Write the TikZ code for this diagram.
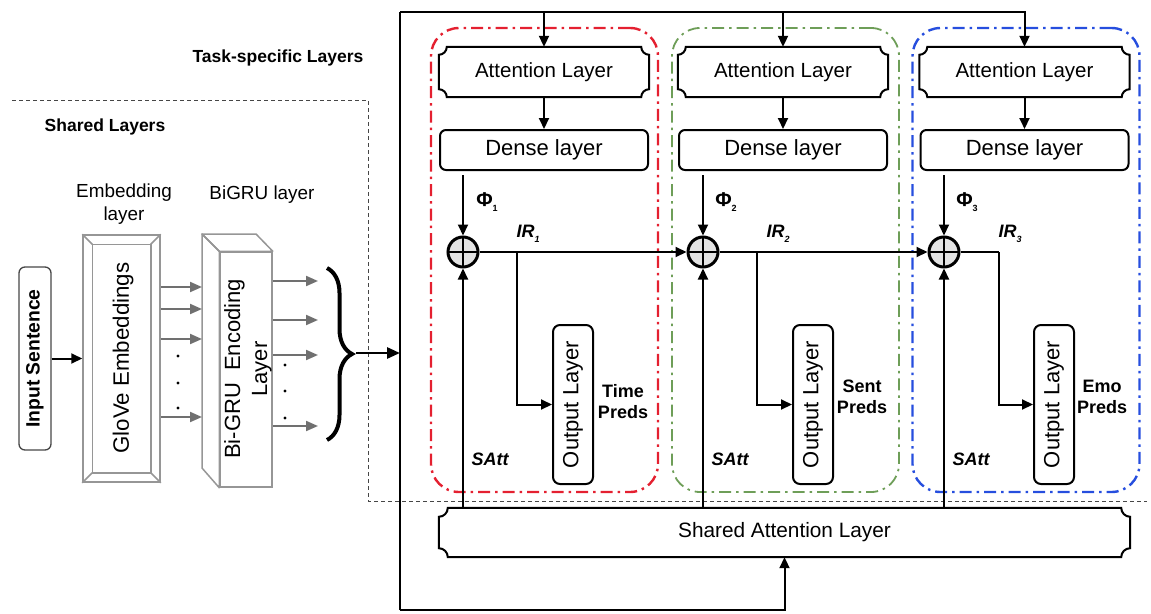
\documentclass[tikz,border=0pt]{standalone}
\usepackage{fontspec}
\setmainfont{Liberation Sans}
\usetikzlibrary{arrows.meta,decorations.pathreplacing,calc}
\definecolor{tred}{RGB}{228,32,48}
\definecolor{tgreen}{RGB}{110,158,88}
\definecolor{tblue}{RGB}{38,78,222}
\definecolor{embgray}{RGB}{150,150,150}
\definecolor{arrgray}{RGB}{112,112,112}
\definecolor{dashgray}{RGB}{70,70,70}
\newcommand\concavebox[2]{%
  \draw[line width=2pt] ([xshift=#2]#1.north west) -- ([xshift=-#2]#1.north east)
    arc[start angle=180,end angle=270,radius=#2] -- ([yshift=#2]#1.south east)
    arc[start angle=90,end angle=180,radius=#2] -- ([xshift=#2]#1.south west)
    arc[start angle=0,end angle=90,radius=#2] -- ([yshift=-#2]#1.north west)
    arc[start angle=270,end angle=360,radius=#2] -- cycle;}
\begin{document}
\begin{tikzpicture}[x=1pt,y=1pt,
  ln/.style={line width=2pt,black},
  arr/.style={-{Triangle[length=11pt,width=10pt]}},
  garr/.style={line width=2pt,arrgray,-{Triangle[length=12pt,width=10pt]}},
  attbox/.style={minimum width=210pt,minimum height=50pt,inner sep=0pt,font=\fontsize{20.5}{24}\selectfont},
  denbox/.style={draw,line width=2pt,rounded corners=6pt,minimum width=208pt,minimum height=40pt,inner sep=0pt,font=\fontsize{22}{26}\selectfont},
  outbox/.style={draw,line width=2pt,rounded corners=7pt,minimum width=40pt,minimum height=159pt,inner sep=0pt,font=\fontsize{22}{26}\selectfont},
  plus/.style={circle,draw,line width=3pt,fill=gray!22,minimum size=30pt,inner sep=0pt,
    path picture={\draw[line width=2.5pt] (path picture bounding box.north) -- (path picture bounding box.south)
      (path picture bounding box.west) -- (path picture bounding box.east);}},
  taskbox/.style={line width=2.4pt,rounded corners=28pt,minimum width=227pt,minimum height=464pt,
    dash pattern=on 12pt off 5pt on 2.5pt off 5pt},
  lbl/.style={font=\fontsize{18}{21}\selectfont\bfseries,inner sep=0pt},
  ilbl/.style={font=\fontsize{18}{21}\selectfont\bfseries\itshape,inner sep=0pt},
  phil/.style={font=\fontsize{20}{22}\selectfont\bfseries,inner sep=0pt},
  plain/.style={font=\fontsize{18.9}{23}\selectfont,inner sep=0pt}
]
\useasboundingbox (0,0) rectangle (1151,-613);

% shared layers dashed frame
\draw[dashgray,line width=1pt,dash pattern=on 4pt off 3pt] (12,-100) -- (368,-100) -- (368,-501) -- (1147,-501);
\node[lbl,font=\fontsize{17.5}{20}\selectfont\bfseries] (tsl) at (278,-58) {Task-specific Layers};
\node[lbl,font=\fontsize{17.5}{20}\selectfont\bfseries] (shl) at (105,-127) {Shared Layers};

% task boxes
\node[taskbox,draw=tred] (tb1) at (544.5,-260) {};
\node[taskbox,draw=tgreen,line width=1.8pt] (tb2) at (785.5,-260) {};
\node[taskbox,draw=tblue] (tb3) at (1026,-260) {};

% shared part
\node[plain] (embl) at (124,-204.5) [align=center] {Embedding\\layer};
\node[plain] (bgl) at (262,-195) {BiGRU layer};
\node[draw=dashgray,line width=1.3pt,rounded corners=6pt,minimum width=32pt,minimum height=183pt,inner sep=0pt] (inp) at (35,-358.5)
  {\rotatebox{90}{\fontsize{19.3}{22}\selectfont\bfseries Input Sentence}};

\node[draw=embgray,line width=1.5pt,minimum width=77pt,minimum height=247pt,inner sep=0pt] (glove) at (121.5,-358.5) {};
\draw[embgray,line width=1.5pt] ([shift={(10,-10)}]glove.north west) rectangle ([shift={(-10,10)}]glove.south east);
\draw[embgray,line width=1.5pt] (glove.north west) -- ([shift={(10,-10)}]glove.north west)
  (glove.north east) -- ([shift={(-10,-10)}]glove.north east)
  (glove.south west) -- ([shift={(10,10)}]glove.south west)
  (glove.south east) -- ([shift={(-10,10)}]glove.south east);
\node[rotate=90,font=\fontsize{22.3}{25}\selectfont,inner sep=0pt] (glovet) at (123,-358) {GloVe Embeddings};

\node[draw=embgray,line width=1.5pt,minimum width=52pt,minimum height=235pt,inner sep=0pt] (bgru) at (246,-369.5) {};
\coordinate (bgA) at (202,-234);
\coordinate (bgB) at (256,-234);
\coordinate (bgC) at (202,-468);
\draw[embgray,line width=1.5pt,line join=round] (bgA) -- (bgB) -- (bgru.north east) -- (bgru.north west) -- cycle;
\draw[embgray,line width=1.5pt,line join=round] (bgA) -- (bgru.north west) -- (bgru.south west) -- (bgC) -- cycle;
\node[rotate=90,align=center,font=\fontsize{22}{27}\selectfont,inner sep=0pt] (bgrut) at (248,-369) {Bi-GRU~~Encoding\\Layer};

\draw[ln,arr] (inp.east) -- (glove.west |- inp.east);
\foreach \yy in {287,309,339,417} \draw[garr] (glove.east |- 0,-\yy) -- (bgA |- 0,-\yy);
\foreach \yy in {356,383,408} \fill (178,-\yy) circle[radius=1.7pt];
\foreach \yy in {281,320,355,426} \draw[garr] (bgru.east |- 0,-\yy) -- (318,-\yy);
\foreach \yy in {365,391,418} \fill (285,-\yy) circle[radius=1.7pt];

\draw[line width=4pt,decorate,decoration={brace,amplitude=25pt}] (327,-268) -- (327,-440);
\coordinate (bt) at (356,-353);

% bus
\coordinate (tl) at (400,-12);
\coordinate (bl) at (400,-610);
\coordinate (bm) at (400,-353);
\draw[line width=2.8pt,-{Triangle[length=13pt,width=11pt]}] (bt) -- (bm);

% task layers
\node[attbox] (att1) at (544,-72) {Attention Layer};
\node[attbox] (att2) at (783,-72) {Attention Layer};
\node[attbox] (att3) at (1024.5,-72) {Attention Layer};
\concavebox{att1}{8pt}
\concavebox{att2}{8pt}
\concavebox{att3}{8pt}
\node[denbox] (den1) at (544,-150) {Dense layer};
\node[denbox] (den2) at (783,-150) {Dense layer};
\node[denbox] (den3) at (1024.5,-150) {Dense layer};

\node[plus] (c1) at (463,-252) {};
\node[plus] (c2) at (703,-252) {};
\node[plus] (c3) at (944,-252) {};

\node[outbox] (out1) at (573,-404.5) {\rotatebox{90}{Output Layer}};
\node[outbox] (out2) at (813,-404.5) {\rotatebox{90}{Output Layer}};
\node[outbox] (out3) at (1054,-404.5) {\rotatebox{90}{Output Layer}};

\node[minimum width=691pt,minimum height=49pt,inner sep=0pt,font=\fontsize{20.8}{24}\selectfont] (sa) at (784.5,-532.5) {Shared Attention Layer};
\concavebox{sa}{9pt}

% bus connections
\draw[ln] (bl) -- (tl);
\draw[ln,arr] (tl) -| (att3.north);
\draw[ln,arr] (att1.north |- tl) -- (att1.north);
\draw[ln,arr] (att2.north |- tl) -- (att2.north);
\draw[ln,arr] (bl) -| (sa.south);

\foreach \i in {1,2,3} {
  \draw[ln,arr] (att\i) -- (den\i);
  \draw[ln,arr,shorten <=4pt] (den\i.south -| c\i) -- (c\i.north);
  \draw[ln,arr] (sa.north -| c\i) -- (c\i.south);
}
\draw[ln,arr] (c1.east) -- (c2.west);
\draw[ln,arr] (c2.east) -- (c3.west);
\coordinate (b1) at (517,-252);
\coordinate (b2) at (757,-252);
\coordinate (b3) at (999,-252);
\draw[ln] (c3.east) -- (b3);
\draw[ln,arr] (b1) |- (out1.west);
\draw[ln,arr] (b2) |- (out2.west);
\draw[ln,arr] (b3) |- (out3.west);

% labels
\newcommand\subl[1]{\raisebox{-5pt}{\fontsize{9}{9}\selectfont\bfseries #1}}
\node[phil] (p1) at (487,-202) {Φ\subl{1}};
\node[phil] (p2) at (726,-202) {Φ\subl{2}};
\node[phil] (p3) at (967,-202) {Φ\subl{3}};
\node[ilbl] (ir1) at (528,-234) {IR\subl{1}};
\node[ilbl] (ir2) at (778,-234) {IR\subl{2}};
\node[ilbl] (ir3) at (1010,-234) {IR\subl{3}};
\node[lbl,align=center] (tp) at (623,-401.5) {Time\\Preds};
\node[lbl,align=center] (sp) at (862,-397) {Sent\\Preds};
\node[lbl,align=center] (ep) at (1102,-397) {Emo\\Preds};
\node[ilbl] (s1) at (490,-459) {SAtt};
\node[ilbl] (s2) at (730,-459) {SAtt};
\node[ilbl] (s3) at (971,-459) {SAtt};
\end{tikzpicture}
\end{document}
